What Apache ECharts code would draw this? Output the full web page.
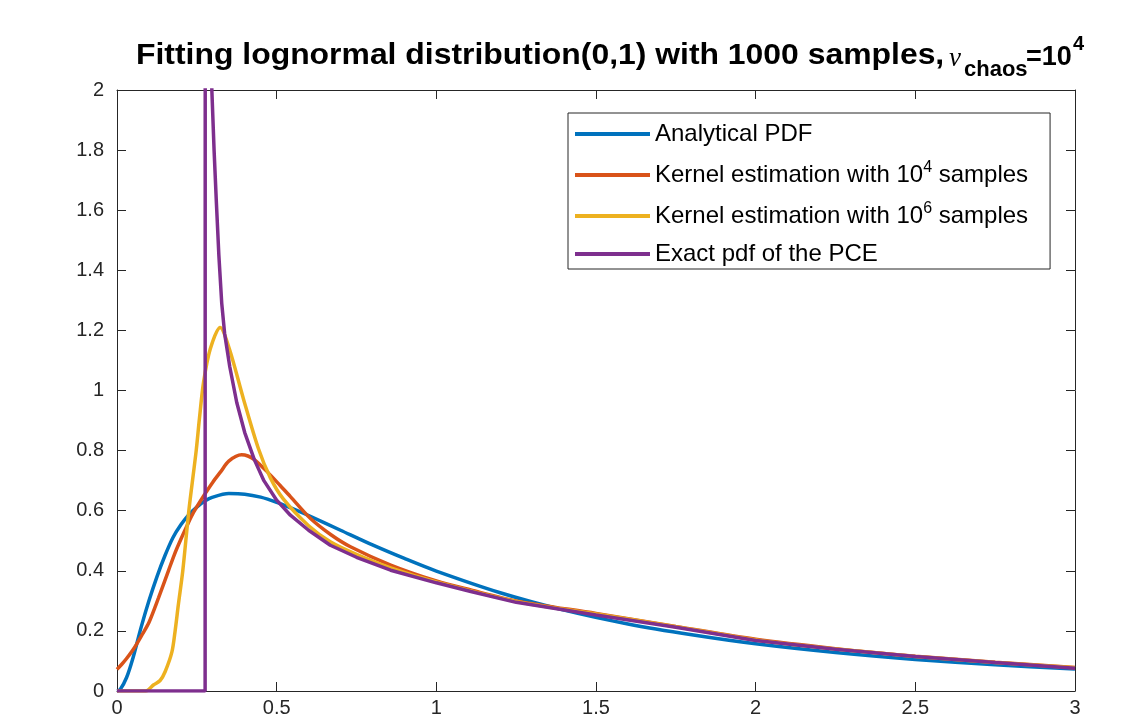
<!DOCTYPE html>
<html lang="en">
<head>
    <meta charset="UTF-8">
    <title>Fitting lognormal distribution</title>
    <script src="https://cdn.jsdelivr.net/npm/echarts@6/dist/echarts.min.js"></script>
    <style>
        html, body { margin: 0; padding: 0; background: #fff; }
    </style>
</head>
<body>
<div id="main" style="width: 1144px;height:718px;"></div>

<script type="text/javascript">
    // values
    const analyticX = [0, 0.01, 0.03, 0.05, 0.075, 0.1, 0.125, 0.15, 0.175, 0.2, 0.225, 0.25, 0.275, 0.3, 0.35, 0.4, 0.45, 0.5, 0.55, 0.6, 0.7, 0.8, 0.9, 1.0, 1.2, 1.4, 1.6, 1.8, 2.0, 2.25, 2.5, 2.75, 3.0]
    const analyticY = [0, 0.005, 0.045, 0.11, 0.21, 0.30, 0.38, 0.45, 0.51, 0.553, 0.587, 0.612, 0.632, 0.645, 0.657, 0.655, 0.645, 0.628, 0.607, 0.584, 0.535, 0.486, 0.441, 0.399, 0.327, 0.269, 0.223, 0.187, 0.157, 0.128, 0.105, 0.087, 0.073]

    const kde4X = [0, 0.015, 0.03, 0.055, 0.08, 0.1, 0.13, 0.161, 0.18, 0.2, 0.22, 0.24, 0.275, 0.3, 0.325, 0.35, 0.39, 0.41, 0.43, 0.47, 0.511, 0.543, 0.606, 0.67, 0.731, 0.857, 1.0, 1.108, 1.25, 1.5, 1.75, 2.0, 2.25, 2.5, 2.75, 3.0]
    const kde4Y = [0.072, 0.089, 0.108, 0.145, 0.19, 0.228, 0.31, 0.4, 0.455, 0.505, 0.552, 0.595, 0.655, 0.695, 0.73, 0.765, 0.786, 0.782, 0.77, 0.73, 0.684, 0.647, 0.574, 0.52, 0.48, 0.419, 0.366, 0.336, 0.30, 0.258, 0.215, 0.172, 0.141, 0.116, 0.096, 0.078]

    const kde6X = [0, 0.09, 0.114, 0.135, 0.151, 0.172, 0.182, 0.192, 0.206, 0.225, 0.248, 0.258, 0.271, 0.292, 0.323, 0.352, 0.396, 0.443, 0.48, 0.52, 0.6, 0.668, 0.75, 0.857, 1.0, 1.25, 1.5, 1.75, 2.0, 2.25, 2.5, 2.75, 3.0]
    const kde6Y = [0, 0, 0.02, 0.035, 0.065, 0.13, 0.2, 0.286, 0.4, 0.6, 0.8, 0.905, 1.027, 1.138, 1.21, 1.138, 0.972, 0.806, 0.71, 0.64, 0.55, 0.497, 0.455, 0.41, 0.363, 0.298, 0.256, 0.214, 0.17, 0.14, 0.115, 0.095, 0.077]

    const pceX = [0, 0.276, 0.277, 0.288, 0.297, 0.304, 0.311, 0.319, 0.328, 0.337, 0.353, 0.375, 0.40, 0.43, 0.46, 0.5, 0.543, 0.6, 0.668, 0.75, 0.857, 1.0, 1.108, 1.25, 1.5, 1.75, 2.0, 2.25, 2.5, 2.75, 3.0]
    const pceY = [0, 0, 8, 2.6, 2.0, 1.8, 1.63, 1.45, 1.29, 1.19, 1.08, 0.96, 0.86, 0.77, 0.70, 0.635, 0.585, 0.535, 0.485, 0.445, 0.402, 0.36, 0.331, 0.295, 0.253, 0.212, 0.168, 0.139, 0.115, 0.095, 0.076]

    const seriesNames = ['Analytical PDF', 'Kernel estimation with 10^4 samples', 'Kernel estimation with 10^6 samples', 'Exact pdf of the PCE']
    const seriesColors = ['#0072BD', '#D95319', '#EDB120', '#7E2F8E']
</script>

<script type="text/javascript">
    function pairs(xs, ys) {
        return xs.map((x, i) => [x, ys[i]])
    }

    const chart = echarts.init(document.getElementById('main'))

    const font = 'Liberation Sans, Arial, Helvetica, sans-serif'
    const axisColor = '#262626'

    const frameAxis = (pos, isX) => ({
        type: 'value',
        position: pos,
        min: 0,
        max: isX ? 3 : 2,
        interval: isX ? 0.5 : 0.2,
        axisLine: {show: true, onZero: false, lineStyle: {color: axisColor, width: 1}},
        axisTick: {show: true, inside: true, length: 9, lineStyle: {color: axisColor}},
        axisLabel: {show: false},
        splitLine: {show: false}
    })

    const makeLine = (idx, xs, ys, smooth) => ({
        name: seriesNames[idx],
        type: 'line',
        data: pairs(xs, ys),
        showSymbol: false,
        symbol: 'none',
        smooth: smooth,
        clip: true,
        lineStyle: {color: seriesColors[idx], width: 3.5},
        itemStyle: {color: seriesColors[idx]},
        z: 2 + idx
    })

    // title pieces (MATLAB-like tex title)
    const titleText = (x, y, text, size, opts) => Object.assign({
        type: 'text',
        x: x,
        y: y,
        silent: true,
        style: Object.assign({
            text: text,
            fontFamily: font,
            fontWeight: 'bold',
            fontSize: size,
            fill: '#000',
            align: 'left',
            verticalAlign: 'middle'
        }, opts || {})
    })

    const titleMain = titleText(136, 56, 'Fitting lognormal distribution(0,1) with 1000 samples,', 29)
    titleMain.scaleX = 1.1

    const option = {
        backgroundColor: '#fff',
        animation: false,
        graphic: [
            titleMain,
            titleText(949, 59, 'ν', 27, {fontFamily: 'Liberation Serif, Times New Roman, serif', fontWeight: 'normal', fontStyle: 'italic'}),
            titleText(964, 70, 'chaos', 22),
            titleText(1026, 57.5, '=10', 27),
            titleText(1073, 44, '4', 20)
        ],
        legend: {
            orient: 'vertical',
            left: 568,
            top: 113,
            padding: [9, 22, 3, 7],
            itemGap: 14,
            itemWidth: 75,
            itemHeight: 4,
            icon: 'rect',
            backgroundColor: '#fff',
            borderColor: axisColor,
            borderWidth: 1,
            borderRadius: 0,
            data: seriesNames,
            formatter: function (name) {
                const m = name.match(/^(.*10)\^(\d)( samples)$/)
                if (m) {
                    return '{a|' + m[1] + '}{s|' + m[2] + '}{a|' + m[3] + '}'
                }
                return '{a|' + name + '}'
            },
            textStyle: {
                rich: {
                    a: {fontFamily: font, fontSize: 24, color: '#000', lineHeight: 26},
                    s: {fontFamily: font, fontSize: 16, color: '#000', padding: [0, 0, 14, 0]}
                }
            }
        },
        grid: {left: 117, right: 69, top: 90, bottom: 25, containLabel: false},
        xAxis: [{
            type: 'value',
            position: 'bottom',
            min: 0,
            max: 3,
            interval: 0.5,
            axisLine: {show: true, onZero: false, lineStyle: {color: axisColor, width: 1}},
            axisTick: {show: true, inside: true, length: 9, lineStyle: {color: axisColor}},
            axisLabel: {fontFamily: font, fontSize: 20, color: axisColor, margin: 7},
            splitLine: {show: false}
        }, frameAxis('top', true)],
        yAxis: [{
            type: 'value',
            position: 'left',
            min: 0,
            max: 2,
            interval: 0.2,
            axisLine: {show: true, onZero: false, lineStyle: {color: axisColor, width: 1}},
            axisTick: {show: true, inside: true, length: 9, lineStyle: {color: axisColor}},
            axisLabel: {fontFamily: font, fontSize: 20, color: axisColor, margin: 13},
            splitLine: {show: false}
        }, frameAxis('right', false)],
        series: [
            makeLine(0, analyticX, analyticY, 0.3),
            makeLine(1, kde4X, kde4Y, 0.3),
            makeLine(2, kde6X, kde6Y, 0.3),
            makeLine(3, pceX, pceY, false)
        ]
    }

    chart.setOption(option)
</script>
</body>
</html>
